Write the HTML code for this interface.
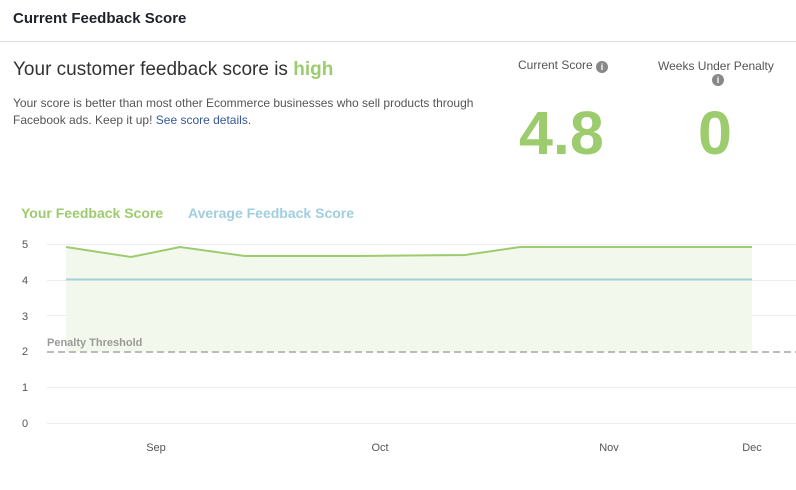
<!DOCTYPE html>
<html><head><meta charset="utf-8"><style>
body{margin:0;width:796px;height:490px;background:#fff;font-family:"Liberation Sans",Arial,sans-serif;position:relative;overflow:hidden}
.a{position:absolute;white-space:nowrap}
</style></head><body>
<div class="a" style="left:13px;top:10px;font-size:15px;font-weight:bold;color:#1d2129">Current Feedback Score</div>
<div class="a" style="left:0;top:41px;width:796px;height:1px;background:#dcdcdc"></div>
<div class="a" style="left:13px;top:59px;font-size:19px;color:#333">Your customer feedback score is <b style="color:#9ccc6d">high</b></div>
<div class="a" style="left:13px;top:95px;font-size:12px;line-height:17px;color:#555">Your score is better than most other Ecommerce businesses who sell products through<br>Facebook ads. Keep it up! <span style="color:#365899">See score details.</span></div>
<div class="a" style="left:518px;top:58px;font-size:12px;color:#555">Current Score <span style="display:inline-block;width:12px;height:12px;border-radius:6px;background:#888;color:#fff;font-size:9px;font-weight:bold;text-align:center;line-height:12px;vertical-align:-1px">i</span></div>
<div class="a" style="left:658px;top:59px;font-size:12px;color:#555">Weeks Under Penalty</div>
<div class="a" style="left:712px;top:74px;width:12px;height:12px;border-radius:6px;background:#888;color:#fff;font-size:9px;font-weight:bold;text-align:center;line-height:12px">i</div>
<div class="a" style="left:519px;top:98px;font-size:61px;font-weight:bold;color:#9ccc6d">4.8</div>
<div class="a" style="left:698px;top:98px;font-size:61px;font-weight:bold;color:#9ccc6d">0</div>
<div class="a" style="left:21px;top:205px;font-size:14px;font-weight:bold;color:#9ccc6d">Your Feedback Score</div>
<div class="a" style="left:188px;top:205px;font-size:14px;font-weight:bold;color:#9fcfdf">Average Feedback Score</div>
<svg class="a" style="left:0;top:0" width="796" height="490">
<g stroke="#ececec" stroke-width="1">
<line x1="47" y1="244.5" x2="796" y2="244.5"/><line x1="47" y1="280.5" x2="796" y2="280.5"/><line x1="47" y1="315.5" x2="796" y2="315.5"/><line x1="47" y1="387.5" x2="796" y2="387.5"/><line x1="47" y1="423.5" x2="796" y2="423.5"/>
</g>
<polygon points="66,247 131,257 180,247 245,256 355,256 465,255 520,247 752,247 752,352 66,352" fill="#f2f8ec"/>
<polyline points="66,247 131,257 180,247 245,256 355,256 465,255 520,247 752,247" fill="none" stroke="#9ccc6d" stroke-width="2"/>
<line x1="66" y1="279.5" x2="752" y2="279.5" stroke="#a6cfdc" stroke-width="2"/>
<line x1="47" y1="352" x2="796" y2="352" stroke="#bbb" stroke-width="2" stroke-dasharray="7,4"/>
<g font-family="Liberation Sans,Arial,sans-serif" font-size="11" fill="#555">
<text x="22" y="248">5</text><text x="22" y="284">4</text><text x="22" y="320">3</text><text x="22" y="355">2</text><text x="22" y="391">1</text><text x="22" y="427">0</text>
<text x="156" y="451" text-anchor="middle">Sep</text><text x="380" y="451" text-anchor="middle">Oct</text><text x="609" y="451" text-anchor="middle">Nov</text><text x="752" y="451" text-anchor="middle">Dec</text>
<text x="47" y="346" font-weight="bold" fill="#999">Penalty Threshold</text>
</g>
</svg>
</body></html>
